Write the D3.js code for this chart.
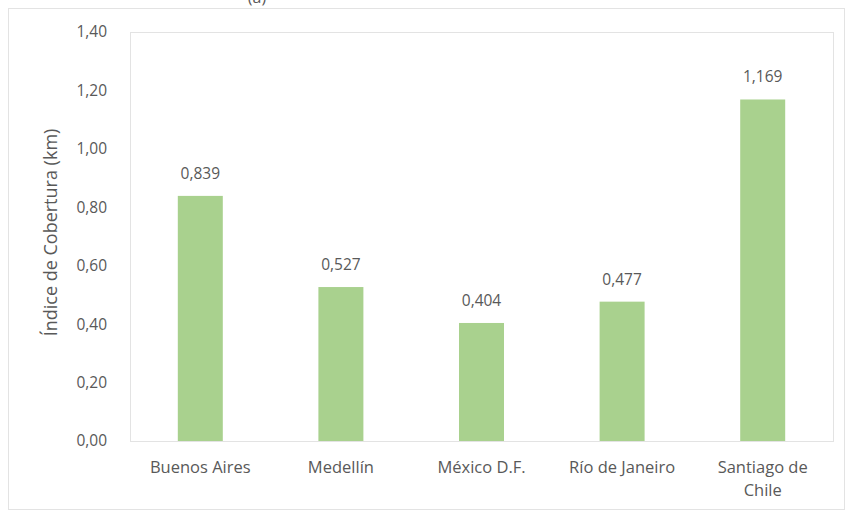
<!DOCTYPE html>
<html>
<head>
<meta charset="utf-8">
<script src="https://cdn.jsdelivr.net/npm/d3@7"></script>
<style>
  body { margin: 0; background: #fff; }
  text { font-family: "Open Sans", "DejaVu Sans", sans-serif; fill: #595959; }
</style>
</head>
<body>
<svg id="chart" width="850" height="517"></svg>
<script>
const cities = ["Buenos Aires", "Medellín", "México D.F.", "Río de Janeiro", "Santiago de Chile"];
const coverage = [0.839, 0.527, 0.404, 0.477, 1.169];
const yTicks = [0, 0.2, 0.4, 0.6, 0.8, 1.0, 1.2, 1.4];

const svg = d3.select("#chart");
const width = +svg.attr("width");
const height = +svg.attr("height");

const margin = { top: 32, right: 17, bottom: 76, left: 130 };
const innerWidth = width - margin.left - margin.right;
const innerHeight = height - margin.top - margin.bottom;

const comma = v => v.toFixed(2).replace(".", ",");

// outer chart border
svg.append("rect")
  .attr("x", 8.5)
  .attr("y", 8.5)
  .attr("width", width - 14)
  .attr("height", height - 16)
  .attr("fill", "none")
  .attr("stroke", "#e3e3e3");

// cut-off title at the top edge
svg.append("text")
  .attr("x", 257)
  .attr("y", 3)
  .attr("text-anchor", "middle")
  .style("font-size", "16px")
  .text("(a)");

const g = svg.append("g")
  .attr("transform", `translate(${margin.left},${margin.top})`);

const x = d3.scaleBand()
  .domain(cities)
  .range([0, innerWidth])
  .paddingInner(0.68)
  .paddingOuter(0.34);

const y = d3.scaleLinear()
  .domain([0, 1.4])
  .range([innerHeight, 0]);

// plot area box
g.append("rect")
  .attr("x", 0.5)
  .attr("y", 0.5)
  .attr("width", innerWidth)
  .attr("height", innerHeight)
  .attr("fill", "none")
  .attr("stroke", "#e3e3e3");

const yAxis = g.append("g")
  .attr("transform", "translate(-20,0)")
  .call(d3.axisLeft(y).tickValues(yTicks).tickFormat(comma).tickSize(0));
yAxis.select(".domain").remove();
yAxis.selectAll("text")
  .style("font-size", "15.5px")
  .style("font-family", "\"Open Sans\", sans-serif")
  .attr("fill", "#595959");

g.selectAll(".bar")
  .data(coverage)
  .enter()
  .append("rect")
  .attr("class", "bar")
  .attr("x", (d, i) => x(cities[i]))
  .attr("y", d => y(d))
  .attr("width", x.bandwidth())
  .attr("height", d => innerHeight - y(d))
  .attr("fill", "#a9d18e");

g.selectAll(".value-label")
  .data(coverage)
  .enter()
  .append("text")
  .attr("class", "value-label")
  .attr("x", (d, i) => x(cities[i]) + x.bandwidth() / 2)
  .attr("y", d => y(d) - 17)
  .attr("text-anchor", "middle")
  .style("font-size", "15.5px")
  .text(d => d.toFixed(3).replace(".", ","));

// x labels, wrapping "Santiago de Chile"
const xLabels = g.selectAll(".x-label")
  .data(cities)
  .enter()
  .append("text")
  .attr("class", "x-label")
  .attr("x", d => x(d) + x.bandwidth() / 2)
  .attr("y", innerHeight + 32)
  .attr("text-anchor", "middle")
  .style("font-size", "16.5px");

xLabels.each(function(d) {
  const lines = d === "Santiago de Chile" ? ["Santiago de", "Chile"] : [d];
  const t = d3.select(this);
  lines.forEach((line, i) => {
    t.append("tspan")
      .attr("x", t.attr("x"))
      .attr("dy", i === 0 ? 0 : 23)
      .text(line);
  });
});

svg.append("text")
  .attr("transform", "rotate(-90)")
  .attr("x", -(margin.top + innerHeight / 2) + 4)
  .attr("y", 57)
  .attr("text-anchor", "middle")
  .style("font-size", "18px")
  .text("Índice de Cobertura (km)");
</script>
</body>
</html>
